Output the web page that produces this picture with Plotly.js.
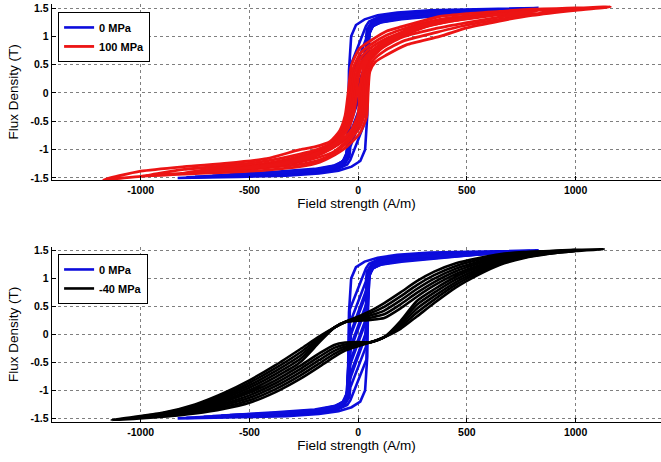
<!DOCTYPE html>
<html>
<head>
<meta charset="utf-8">
<script src="https://cdn.plot.ly/plotly-3.0.1.min.js"></script>
<style>html,body{margin:0;padding:0;background:#fff;}#chart{width:661px;height:462px;}</style>
</head>
<body>
<div id="chart"></div>
<script>
// ---------- tick labels / names ----------
const xTickVals = [-1000, -500, 0, 500, 1000];
const xTickText = ["-1000", "-500", "0", "500", "1000"];
const yTickVals = [-1.5, -1, -0.5, 0, 0.5, 1, 1.5];
const yTickText = ["-1.5", "-1", "-0.5", "0", "0.5", "1", "1.5"];
const seriesNames = ["0 MPa", "100 MPa", "-40 MPa"];
const xTitle = "Field strength (A/m)";
const yTitle = "Flux Density (T)";

// ---------- 0 MPa loops (H in A/m, B in T) ----------
const blueH = [
 [830,550,330,180,90,30,-10,-32,-42,-46,-52,-75,-140,-320,-830, -550,-330,-180,-90,-30,10,32,42,46,52,75,140,320,830],
 [790,530,320,180,95,50,36,-38,-44,-48,-56,-80,-150,-330,-790, -530,-320,-180,-95,-50,-36,38,44,48,56,80,150,330,790],
 [750,510,310,175,100,60,40,36,-38,-45,-50,-60,-90,-160,-340,-750, -510,-310,-175,-100,-60,-40,-36,38,45,50,60,90,160,340,750],
 [710,490,300,170,100,62,44,40,35,-38,-46,-52,-62,-95,-170,-350,-710, -490,-300,-170,-100,-62,-44,-40,-35,38,46,52,62,95,170,350,710],
 [670,470,290,165,100,64,46,42,34,-38,-46,-53,-65,-100,-180,-360,-670, -470,-290,-165,-100,-64,-46,-42,-34,38,46,53,65,100,180,360,670],
 [630,450,280,160,100,66,48,43,33,-38,-47,-54,-68,-105,-190,-370,-630, -450,-280,-160,-100,-66,-48,-43,-33,38,47,54,68,105,190,370,630],
 [590,430,270,155,100,68,50,44,32,-38,-48,-56,-70,-110,-200,-380,-590, -430,-270,-155,-100,-68,-50,-44,-32,38,48,56,70,110,200,380,590]
];
const blueB = [
 [1.50,1.48,1.46,1.42,1.37,1.30,1.20,1.00,0.40,-0.60,-1.05,-1.24,-1.34,-1.42,-1.50, -1.48,-1.46,-1.42,-1.37,-1.30,-1.20,-1.00,-0.40,0.60,1.05,1.24,1.32,1.40,1.50],
 [1.49,1.465,1.44,1.40,1.34,1.26,1.18,0.45,-0.40,-0.95,-1.15,-1.26,-1.35,-1.42,-1.49, -1.465,-1.44,-1.40,-1.34,-1.26,-1.18,-0.45,0.40,0.95,1.15,1.25,1.33,1.40,1.49],
 [1.48,1.455,1.43,1.39,1.33,1.24,1.12,0.95,0.20,-0.70,-1.02,-1.17,-1.27,-1.35,-1.42,-1.48, -1.455,-1.43,-1.39,-1.33,-1.24,-1.12,-0.95,-0.20,0.70,1.02,1.17,1.26,1.33,1.40,1.48],
 [1.47,1.445,1.42,1.38,1.32,1.24,1.12,0.95,0.70,-0.05,-0.80,-1.05,-1.18,-1.28,-1.35,-1.41,-1.47, -1.445,-1.42,-1.38,-1.32,-1.24,-1.12,-0.95,-0.70,0.05,0.80,1.05,1.17,1.26,1.33,1.39,1.47],
 [1.46,1.435,1.41,1.37,1.31,1.23,1.10,0.80,0.45,-0.30,-0.90,-1.08,-1.19,-1.28,-1.35,-1.41,-1.46, -1.435,-1.41,-1.37,-1.31,-1.23,-1.10,-0.80,-0.45,0.30,0.90,1.07,1.17,1.25,1.32,1.38,1.46],
 [1.45,1.425,1.40,1.36,1.30,1.22,1.08,0.70,0.20,-0.55,-0.98,-1.10,-1.20,-1.28,-1.35,-1.40,-1.45, -1.425,-1.40,-1.36,-1.30,-1.22,-1.08,-0.70,-0.20,0.55,0.98,1.09,1.18,1.25,1.31,1.37,1.45],
 [1.44,1.415,1.39,1.35,1.29,1.21,1.06,0.60,-0.05,-0.80,-1.04,-1.12,-1.21,-1.28,-1.34,-1.39,-1.44, -1.415,-1.39,-1.35,-1.29,-1.21,-1.06,-0.60,0.05,0.80,1.04,1.11,1.19,1.25,1.30,1.36,1.44]
];

// ---------- 100 MPa loops ----------
const redH = [
 [1160,1000,800,650,500,376,284,200,130,60,8,-30,-46,-60,-84,-130,-200,-268,-420,-600,-800,-1000,-1170, -1000,-800,-600,-420,-268,-176,-130,-53,8,39,46,54,80,130,222,376,500,650,800,1000,1160],
 [980,800,650,500,376,284,200,130,60,10,-24,-38,-52,-76,-120,-190,-268,-420,-600,-800,-980, -800,-600,-420,-268,-176,-120,-50,6,32,38,46,70,120,210,360,500,650,800,980],
 [820,650,500,376,284,200,130,60,12,-18,-30,-44,-68,-110,-180,-268,-420,-600,-820, -600,-420,-268,-176,-110,-46,4,26,30,38,60,110,200,350,500,650,820],
 [680,550,420,300,200,130,60,14,-12,-22,-36,-60,-100,-170,-268,-420,-680, -450,-300,-200,-130,-100,-42,2,20,22,30,52,100,190,320,450,680],
 [560,450,340,240,160,100,50,16,-6,-14,-28,-52,-90,-160,-268,-400,-560, -400,-268,-160,-90,-38,0,12,14,22,44,90,160,268,400,560],
 [450,350,250,170,110,50,14,-2,-6,-20,-44,-80,-150,-250,-350,-450, -350,-250,-150,-80,-32,-2,4,6,16,38,80,150,250,350,450]
];
const redB = [
 [1.52,1.50,1.48,1.44,1.40,1.35,1.26,1.17,1.09,0.93,0.79,0.50,0.00,-0.40,-0.66,-0.86,-0.95,-1.00,-1.16,-1.24,-1.30,-1.38,-1.53, -1.47,-1.43,-1.40,-1.36,-1.30,-1.22,-1.14,-0.95,-0.71,-0.42,0.00,0.38,0.55,0.67,0.85,1.00,1.15,1.27,1.37,1.46,1.52],
 [1.48,1.45,1.41,1.36,1.30,1.22,1.12,1.02,0.86,0.70,0.42,0.00,-0.40,-0.66,-0.88,-1.00,-1.08,-1.20,-1.28,-1.35,-1.46, -1.42,-1.37,-1.32,-1.26,-1.18,-1.08,-0.88,-0.62,-0.35,0.00,0.36,0.58,0.74,0.92,1.07,1.20,1.30,1.39,1.48],
 [1.44,1.39,1.33,1.26,1.18,1.07,0.96,0.80,0.62,0.36,0.00,-0.40,-0.64,-0.86,-1.02,-1.12,-1.24,-1.31,-1.42, -1.36,-1.29,-1.22,-1.13,-1.03,-0.82,-0.55,-0.30,0.00,0.34,0.60,0.79,0.98,1.13,1.24,1.34,1.44],
 [1.40,1.35,1.29,1.20,1.04,0.90,0.74,0.55,0.30,0.00,-0.40,-0.62,-0.84,-1.02,-1.14,-1.26,-1.38, -1.30,-1.22,-1.10,-0.99,-0.93,-0.76,-0.48,-0.25,0.00,0.32,0.60,0.78,0.98,1.18,1.28,1.40],
 [1.35,1.31,1.24,1.13,0.98,0.85,0.70,0.50,0.25,0.00,-0.38,-0.62,-0.82,-1.02,-1.16,-1.26,-1.34, -1.29,-1.20,-1.06,-0.90,-0.70,-0.44,-0.22,0.00,0.30,0.58,0.78,0.94,1.12,1.25,1.35],
 [1.30,1.25,1.15,1.01,0.88,0.68,0.45,0.20,0.00,-0.36,-0.62,-0.80,-1.00,-1.14,-1.24,-1.29, -1.26,-1.17,-1.03,-0.86,-0.66,-0.40,-0.20,0.00,0.28,0.56,0.76,0.94,1.11,1.22,1.30]
];

// ---------- -40 MPa loops ----------
const blackH = [
 [1130,1000,880,760,650,550,450,350,270,195,120,57,0,-60,-110,-180,-265,-380,-500,-620,-750,-900,-1134, -900,-750,-620,-500,-380,-265,-180,-110,-60,0,57,120,195,270,350,450,550,650,760,880,1000,1130],
 [1000,880,760,650,550,450,350,270,195,120,57,0,-60,-110,-180,-265,-380,-500,-620,-750,-900,-1000, -900,-750,-620,-500,-380,-265,-180,-110,-60,0,57,120,195,270,350,450,550,650,760,880,1000],
 [1000,880,760,650,550,450,350,270,195,120,57,0,-60,-110,-180,-265,-380,-500,-620,-750,-900,-1000, -900,-750,-620,-500,-380,-265,-180,-110,-60,0,57,120,195,270,350,450,550,650,760,880,1000],
 [1000,880,760,650,550,450,350,270,195,120,57,0,-60,-110,-180,-265,-380,-500,-620,-750,-900,-1000, -900,-750,-620,-500,-380,-265,-180,-110,-60,0,57,120,195,270,350,450,550,650,760,880,1000],
 [1000,880,760,650,550,450,350,270,195,120,57,0,-60,-110,-180,-265,-380,-500,-620,-750,-900,-1000, -900,-750,-620,-500,-380,-265,-180,-110,-60,0,57,120,195,270,350,450,550,650,760,880,1000]
];
const blackB = [
 [1.52,1.51,1.49,1.47,1.43,1.36,1.27,1.12,0.95,0.75,0.56,0.42,0.32,0.22,0.12,-0.04,-0.26,-0.55,-0.82,-1.05,-1.25,-1.40,-1.53, -1.47,-1.41,-1.33,-1.22,-1.03,-0.79,-0.58,-0.40,-0.29,-0.21,-0.14,-0.05,0.10,0.32,0.56,0.84,1.06,1.24,1.36,1.44,1.49,1.52],
 [1.508,1.485,1.458,1.409,1.327,1.223,1.058,0.881,0.679,0.493,0.38,0.301,0.22,0.12,-0.067,-0.318,-0.603,-0.864,-1.081,-1.268,-1.408,-1.464, -1.462,-1.392,-1.299,-1.176,-0.977,-0.732,-0.521,-0.347,-0.253,-0.192,-0.14,-0.05,0.135,0.389,0.622,0.887,1.093,1.261,1.372,1.446,1.492],
 [1.506,1.479,1.446,1.388,1.294,1.175,0.997,0.811,0.607,0.426,0.34,0.281,0.22,0.12,-0.094,-0.377,-0.656,-0.908,-1.112,-1.285,-1.415,-1.469, -1.455,-1.375,-1.268,-1.132,-0.924,-0.673,-0.461,-0.294,-0.217,-0.173,-0.14,-0.05,0.169,0.459,0.683,0.935,1.126,1.282,1.384,1.451,1.494],
 [1.503,1.474,1.434,1.367,1.261,1.128,0.935,0.742,0.536,0.359,0.30,0.262,0.22,0.12,-0.121,-0.435,-0.708,-0.952,-1.142,-1.303,-1.423,-1.473, -1.447,-1.357,-1.238,-1.088,-0.872,-0.615,-0.402,-0.241,-0.18,-0.155,-0.14,-0.05,0.204,0.528,0.745,0.982,1.159,1.303,1.396,1.457,1.497],
 [1.501,1.468,1.422,1.346,1.228,1.081,0.874,0.673,0.464,0.292,0.26,0.243,0.22,0.12,-0.147,-0.493,-0.761,-0.996,-1.173,-1.32,-1.431,-1.478, -1.439,-1.34,-1.207,-1.044,-0.819,-0.557,-0.342,-0.188,-0.144,-0.136,-0.14,-0.05,0.238,0.597,0.806,1.029,1.192,1.324,1.408,1.462,1.499]
];

// ---------- build ----------
function joinLoops(loops) {
  const out = [];
  loops.forEach((l, i) => { if (i) out.push(null); out.push(...l); });
  return out;
}
const FONT = "Liberation Sans, Arial, sans-serif";
const BLUE = "#0c0cdc", RED = "#ec1414", BLACK = "#000000";

function mk(h, b, name, color, xa, ya, leg, shape, w) {
  return {
    type: "scatter", mode: "lines", name: name,
    x: joinLoops(h), y: joinLoops(b), xaxis: xa, yaxis: ya, legend: leg,
    connectgaps: false,
    line: { color: color, width: w, shape: shape, smoothing: 0.6 },
    hoverinfo: "skip"
  };
}
const traces = [
  mk(blueH, blueB, seriesNames[0], BLUE, "x", "y", "legend", "linear", 2.6),
  mk(redH, redB, seriesNames[1], RED, "x", "y", "legend", "spline", 2.8),
  mk(blueH, blueB, seriesNames[0], BLUE, "x2", "y2", "legend2", "linear", 2.6),
  mk(blackH, blackB, seriesNames[2], BLACK, "x2", "y2", "legend2", "spline", 2.6)
];

function xax(anchor) {
  return {
    anchor: anchor, domain: [0, 1], range: [-1408, 1393],
    tickmode: "array", tickvals: xTickVals, ticktext: xTickText,
    ticks: "inside", ticklen: 4, tickcolor: "#000",
    tickfont: { family: FONT, size: 10.5, color: "#000", weight: "bold" },
    showgrid: true, gridcolor: "rgba(0,0,0,0.5)", griddash: "dot", gridwidth: 1,
    zeroline: false, showline: true, linecolor: "#000", linewidth: 1.3,
    title: { text: xTitle, font: { family: FONT, size: 13.5, color: "#000" }, standoff: 2 }
  };
}
function yax(anchor, domain, range) {
  return {
    anchor: anchor, domain: domain, range: range,
    tickmode: "array", tickvals: yTickVals, ticktext: yTickText,
    ticks: "inside", ticklen: 4, tickcolor: "#000",
    tickfont: { family: FONT, size: 10.5, color: "#000", weight: "bold" },
    showgrid: true, gridcolor: "rgba(0,0,0,0.5)", griddash: "dot", gridwidth: 1,
    zeroline: false, showline: true, linecolor: "#000", linewidth: 1.3,
    title: { text: yTitle, font: { family: FONT, size: 13.5, color: "#000" }, standoff: 8 }
  };
}
function leg(y) {
  return {
    x: 0.01, y: y, xanchor: "left", yanchor: "top",
    bgcolor: "#fff", bordercolor: "#000", borderwidth: 1,
    font: { family: FONT, size: 11, color: "#000", weight: "bold" },
    itemwidth: 30, tracegroupgap: 0
  };
}
const layout = {
  width: 661, height: 462,
  margin: { l: 52, r: 0, t: 4, b: 40 },
  paper_bgcolor: "#fff", plot_bgcolor: "#fff",
  showlegend: true,
  xaxis: xax("y"),
  yaxis: yax("x", [0.579, 1], [-1.5353, 1.5706]),
  xaxis2: xax("y2"),
  yaxis2: yax("x2", [0, 0.4187], [-1.564, 1.561]),
  legend: leg(0.981),
  legend2: leg(0.402)
};
Plotly.newPlot("chart", traces, layout, { displayModeBar: false, staticPlot: true });
</script>
</body>
</html>
